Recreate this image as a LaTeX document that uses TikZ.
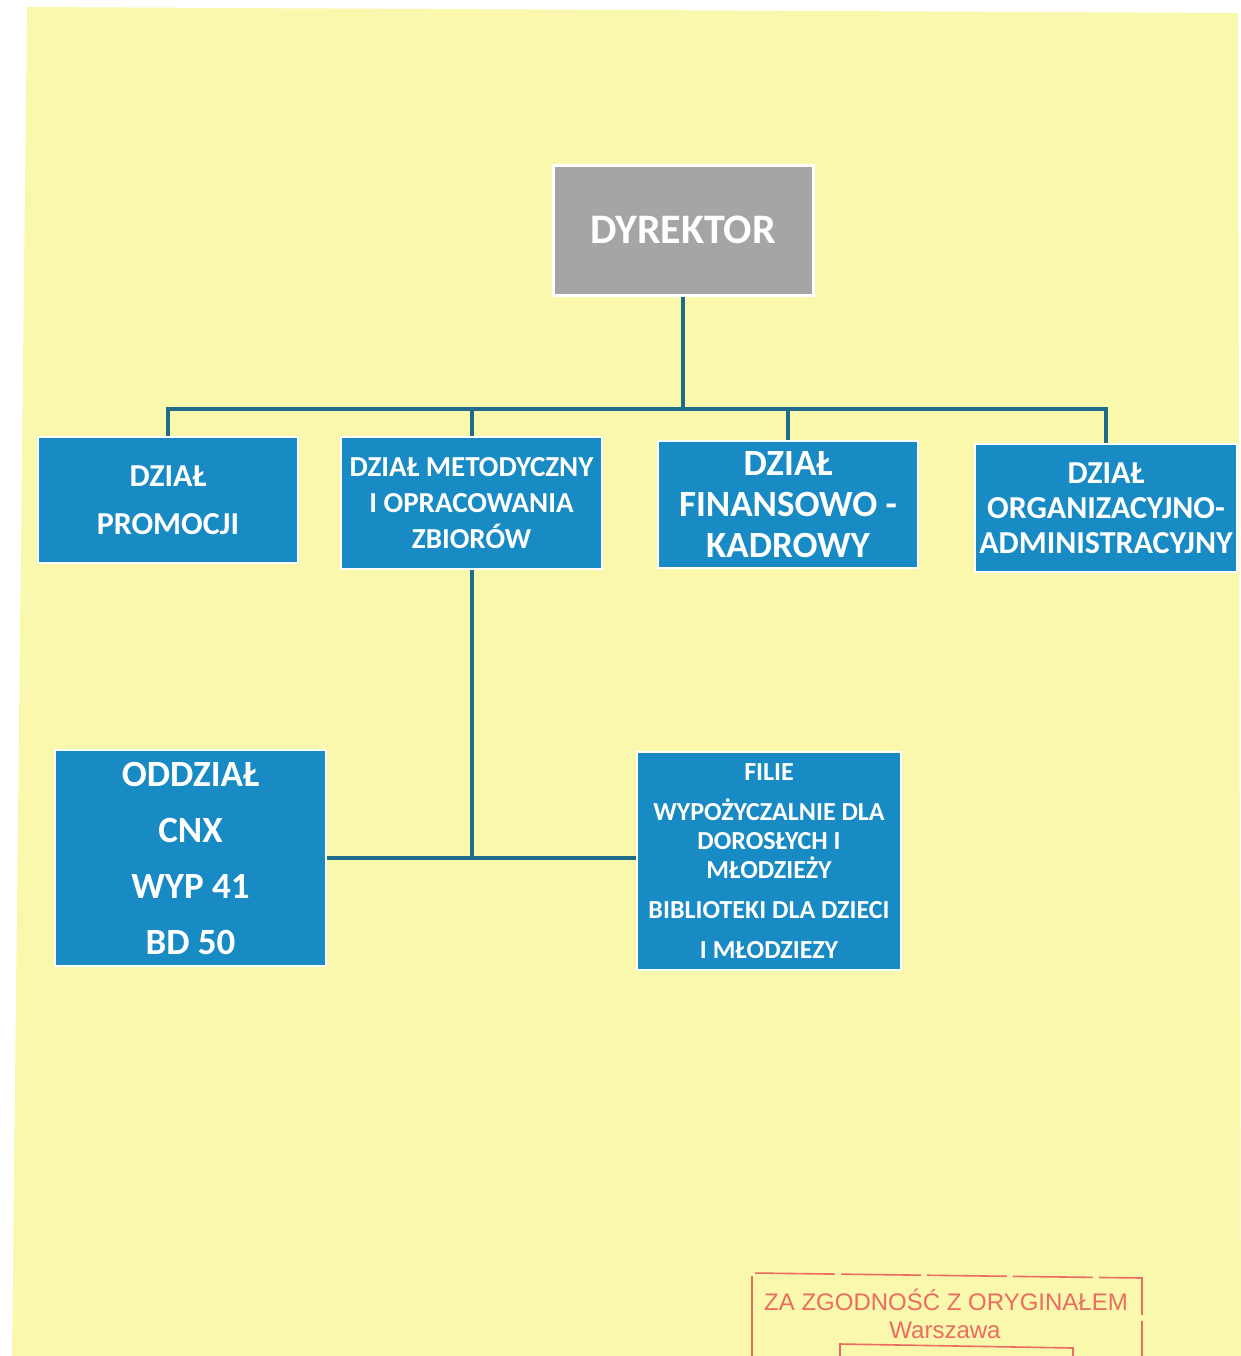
\documentclass[tikz,border=0pt]{standalone}
\usepackage{fontspec}
\setmainfont{Carlito}
\newfontfamily\stampfont{Liberation Sans}
\definecolor{bg}{RGB}{250,248,172}
\definecolor{boxblue}{RGB}{24,138,196}
\definecolor{conn}{RGB}{28,108,138}
\definecolor{dirgray}{RGB}{165,165,165}
\definecolor{stampred}{RGB}{236,108,98}
\begin{document}
\begin{tikzpicture}[x=0.5pt,y=-0.5pt,
  unit/.style={draw=white, line width=0.6pt, fill=boxblue, text=white, inner sep=0pt, align=center},
  link/.style={draw=conn, line width=2pt},
  stamptext/.style={text=stampred, inner sep=0pt},
  stampline/.style={draw=stampred, line width=0.8pt}
]
\useasboundingbox[fill=white] (0,0) rectangle (1241,1356);
\fill[bg] (27,7) -- (1238,13) -- (1241,1356) -- (12,1356) -- cycle;

% director
\node[draw=white, line width=1.5pt, fill=dirgray, minimum width=130pt, minimum height=65pt,
      inner sep=0pt, text=white, font=\fontsize{21}{25}\selectfont\bfseries] (dir) at (683,230) {DYREKTOR};

% second row
\node[unit, minimum width=130pt, minimum height=63pt, font=\fontsize{16}{24}\selectfont\bfseries]
  (prom) at (168,500) {DZIAŁ\\PROMOCJI};
\node[unit, minimum width=130.5pt, minimum height=66pt, font=\fontsize{14.5}{18}\selectfont\bfseries]
  (met) at (471.5,503) {DZIAŁ METODYCZNY\\I OPRACOWANIA\\ZBIORÓW};
\node[unit, minimum width=130pt, minimum height=63.5pt, font=\fontsize{18.5}{20.5}\selectfont\bfseries]
  (fin) at (788,504.5) {DZIAŁ\\FINANSOWO -\\KADROWY};
\node[unit, minimum width=131pt, minimum height=64pt, font=\fontsize{16}{17.5}\selectfont\bfseries]
  (org) at (1106,508) {DZIAŁ\\ORGANIZACYJNO-\\ADMINISTRACYJNY};

% third row
\node[unit, minimum width=135.5pt, minimum height=108pt, font=\fontsize{18.5}{28}\selectfont\bfseries]
  (odd) at (190.5,858) {ODDZIAŁ\\CNX\\WYP 41\\BD 50};
\node[unit, minimum width=132pt, minimum height=109pt, font=\fontsize{13}{14.5}\selectfont\bfseries]
  (fil) at (769,861) {FILIE\\[5.5pt]WYPOŻYCZALNIE DLA\\DOROSŁYCH I\\MŁODZIEŻY\\[5.5pt]BIBLIOTEKI DLA DZIECI\\[5.5pt]I MŁODZIEZY};

% connectors
\coordinate (j) at (683,409);
\draw[link] (dir.south) -- (j);
\draw[link] (prom.north) |- (j) -| (org.north);
\draw[link] (met.north) -- (met.north |- j);
\draw[link] (fin.north) -- (fin.north |- j);
\draw[link] (met.south) -- (met.south |- odd.east);
\draw[link] (odd.east) -- (odd.east -| fil.west);

% stamp
\node[stamptext, font=\stampfont\fontsize{12}{14}\selectfont] (st1) at (946,1300) {ZA ZGODNOŚĆ Z ORYGINAŁEM};
\node[stamptext, font=\stampfont\fontsize{12}{14}\selectfont] (st2) at (945,1330) {Warszawa};
\draw[stampline, dash pattern=on 40pt off 3pt] (752,1356) -- (752,1273) -- (1142,1278) -- (1142,1356);
\draw[stampline] (840,1356) -- (840,1344) -- (1073,1348) -- (1073,1356);
\end{tikzpicture}
\end{document}
